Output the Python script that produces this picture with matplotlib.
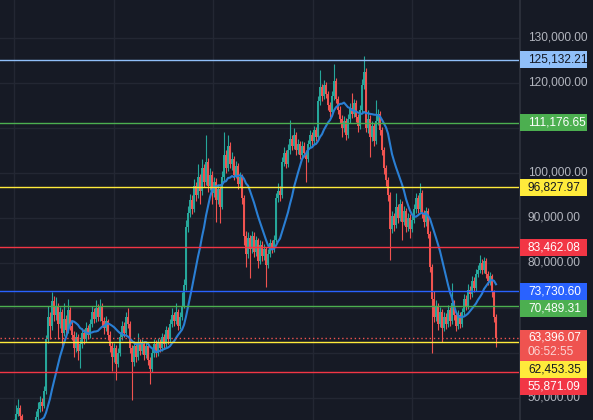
import numpy as np
import pandas as pd
import matplotlib
matplotlib.use("Agg")
import matplotlib.pyplot as plt
from matplotlib.patches import Rectangle

# candle data in thousands of USD, open of each candle = previous close
first_open_k = 43.0
close_k = [
    43.5, 44.0, 44.5, 46.5, 47.8, 46.0, 44.2, 43.0, 42.5, 43.2,
    42.8, 43.5, 44.0, 45.8, 47.5, 49.0, 48.2, 51.5, 63.0, 68.0,
    66.0, 71.5, 68.5, 70.5, 66.5, 69.0, 64.5, 67.5, 65.0, 69.5,
    66.0, 64.0, 61.0, 63.5, 60.5, 62.0, 64.5, 63.0, 65.5, 64.0,
    66.5, 69.0, 67.5, 70.0, 68.0, 70.5, 67.0, 65.5, 67.0, 64.0,
    61.5, 59.0, 61.0, 57.5, 60.0, 63.5, 66.0, 64.5, 68.0, 66.5,
    61.0, 58.0, 61.5, 59.0, 62.5, 60.5, 62.0, 59.5, 61.5, 58.5,
    56.5, 60.0, 62.0, 60.0, 62.5, 61.0, 63.5, 62.0, 65.0, 63.0,
    66.5, 68.5, 67.0, 69.0, 66.0, 68.0, 70.5, 75.0, 88.0, 91.0,
    94.0, 92.0, 97.0, 95.0, 99.0, 96.0, 101.0, 98.0, 102.5, 97.0,
    99.5, 95.5, 98.0, 94.0, 96.5, 92.5, 99.0, 104.0, 101.0, 106.0,
    102.0, 103.0, 99.5, 101.5, 97.5, 99.0, 94.5, 86.0, 82.0, 85.5,
    83.0, 86.0, 82.5, 85.0, 80.5, 84.0, 81.5, 83.0, 79.5, 82.0,
    84.5, 83.0, 85.0, 94.5, 96.0, 95.0, 102.5, 104.5, 102.0, 105.0,
    107.5, 106.0, 108.5, 105.0, 106.5, 104.0, 106.0, 104.5, 103.0, 106.5,
    108.5, 107.0, 109.5, 108.0, 116.0, 119.0, 117.0, 119.5, 117.5, 115.0,
    113.5, 117.0, 120.5, 116.5, 114.0, 112.0, 110.0, 111.5, 108.5, 112.0,
    114.5, 113.0, 115.5, 112.5, 110.5, 114.0, 119.5, 122.5, 110.0, 112.0,
    108.0, 110.5, 107.0, 111.5, 113.0, 109.5, 105.0, 101.0, 98.5, 95.0,
    87.5, 90.5, 88.5, 92.5, 90.0, 93.0, 89.0, 91.5, 88.0, 90.0,
    87.5, 89.5, 92.0, 94.5, 92.0, 95.5, 91.0, 89.0, 91.5, 86.5,
    79.0, 72.0, 68.0, 70.5, 66.5, 69.0, 65.5, 68.0, 66.5, 69.5,
    67.0, 71.0, 68.5, 66.0, 68.5, 66.5, 69.0, 72.0, 70.5, 74.0,
    73.0, 76.0, 74.5, 77.5, 78.5, 80.0, 78.5, 80.5, 77.5, 76.0,
    77.0, 73.5, 68.0, 63.39607,
]
high_k = [
    44.2, 44.6, 45.3, 48.5, 49.8, 48.4, 46.5, 44.6, 43.6, 43.9,
    43.8, 44.2, 44.7, 47.0, 49.0, 50.5, 50.0, 52.6, 64.0, 70.5,
    69.2, 73.5, 72.6, 72.5, 71.2, 70.2, 69.8, 71.0, 68.4, 72.0,
    70.3, 67.2, 64.8, 64.6, 64.2, 63.0, 65.6, 65.4, 66.8, 66.2,
    67.6, 70.5, 70.0, 71.8, 70.8, 72.0, 71.2, 68.0, 68.2, 67.6,
    64.8, 62.4, 62.2, 61.8, 61.2, 64.6, 67.2, 66.8, 69.0, 70.0,
    67.2, 61.8, 62.6, 62.2, 64.5, 63.2, 63.0, 62.6, 62.4, 62.0,
    59.2, 61.0, 63.0, 62.8, 63.4, 63.2, 64.4, 64.2, 66.0, 65.8,
    67.6, 70.0, 69.2, 71.0, 69.8, 69.0, 73.5, 76.5, 89.6, 92.6,
    95.4, 95.0, 98.6, 98.0, 102.0, 99.8, 103.0, 102.0, 108.5, 103.4,
    101.0, 100.4, 99.2, 98.8, 97.6, 97.2, 100.4, 109.0, 105.0, 108.5,
    106.8, 104.6, 103.8, 102.6, 102.2, 100.2, 99.8, 95.2, 87.0, 86.8,
    86.2, 87.2, 86.8, 86.0, 85.6, 85.2, 84.8, 84.2, 83.6, 83.0,
    85.4, 85.2, 86.2, 95.6, 97.8, 97.0, 103.6, 105.8, 105.2, 106.4,
    111.8, 108.4, 110.0, 109.2, 107.6, 107.2, 107.0, 106.8, 105.2, 107.4,
    109.6, 109.2, 110.4, 110.2, 117.2, 122.9, 119.8, 120.6, 120.2, 118.2,
    115.8, 118.2, 124.2, 121.2, 117.2, 114.8, 112.8, 112.6, 112.2, 113.0,
    115.6, 117.8, 116.4, 116.2, 113.2, 115.2, 120.8, 126.0, 123.4, 114.0,
    112.8, 111.6, 111.2, 116.2, 114.2, 113.8, 110.2, 105.8, 101.8, 99.2,
    95.8, 91.6, 91.2, 95.5, 93.2, 94.2, 93.8, 92.6, 92.2, 91.0,
    90.8, 90.6, 93.0, 95.6, 95.2, 97.8, 96.2, 91.8, 92.4, 92.2,
    87.2, 79.8, 73.8, 71.8, 71.2, 70.2, 69.8, 69.0, 68.8, 70.6,
    70.2, 75.5, 71.8, 69.2, 69.6, 69.2, 70.0, 73.2, 72.8, 75.4,
    74.8, 77.2, 76.8, 78.6, 79.6, 81.8, 80.8, 81.4, 81.0, 78.2,
    78.0, 77.6, 74.0, 68.6,
]
low_k = [
    42.5, 43.0, 43.6, 44.0, 46.0, 45.2, 43.6, 42.4, 41.8, 42.0,
    42.1, 42.3, 43.0, 43.6, 45.2, 46.8, 47.2, 47.8, 50.8, 62.2,
    63.2, 65.2, 67.0, 67.4, 63.0, 65.5, 61.5, 63.8, 64.0, 64.4,
    65.0, 62.8, 59.0, 60.2, 58.5, 56.7, 61.2, 62.0, 62.4, 63.0,
    63.4, 65.8, 66.6, 66.8, 67.0, 67.2, 66.0, 64.2, 64.8, 62.8,
    60.2, 56.0, 58.0, 54.0, 56.8, 59.4, 62.8, 63.6, 63.8, 65.6,
    60.0, 49.5, 57.2, 58.0, 58.4, 59.6, 59.8, 58.4, 58.8, 57.4,
    53.0, 55.8, 59.2, 59.0, 59.4, 60.2, 60.4, 61.2, 61.4, 62.0,
    62.4, 65.8, 66.0, 66.4, 65.0, 65.4, 67.4, 70.0, 74.0, 86.8,
    90.2, 90.8, 91.4, 93.8, 94.4, 93.0, 95.2, 96.8, 97.4, 95.8,
    96.2, 93.0, 94.6, 89.0, 93.2, 88.9, 92.0, 98.2, 100.0, 100.4,
    101.0, 100.6, 98.4, 98.8, 96.4, 96.8, 93.2, 84.0, 79.0, 81.2,
    76.7, 82.2, 81.4, 81.6, 78.8, 79.8, 80.4, 80.6, 74.6, 78.8,
    81.4, 82.2, 82.4, 84.6, 93.6, 93.8, 94.4, 101.6, 101.2, 101.4,
    104.2, 105.0, 105.4, 104.0, 104.2, 103.0, 103.4, 103.6, 98.0, 102.4,
    105.8, 106.0, 106.4, 107.0, 107.4, 115.2, 116.0, 116.4, 116.6, 114.0,
    112.4, 112.8, 116.2, 115.6, 113.0, 111.0, 108.0, 109.2, 107.3, 107.8,
    111.2, 112.2, 112.4, 111.4, 109.0, 109.8, 113.4, 118.6, 109.2, 108.8,
    103.5, 107.2, 106.0, 106.4, 110.6, 108.4, 104.0, 99.8, 97.0, 93.8,
    80.7, 86.6, 87.2, 87.8, 88.8, 89.4, 85.0, 88.4, 86.8, 87.2,
    85.6, 86.8, 88.8, 91.2, 91.0, 91.4, 90.0, 88.0, 88.2, 85.6,
    78.0, 60.0, 66.8, 67.2, 65.0, 65.8, 62.4, 64.8, 65.4, 65.8,
    66.0, 66.4, 67.4, 64.8, 65.4, 65.6, 65.8, 68.4, 69.6, 69.8,
    72.0, 72.4, 73.6, 73.8, 76.8, 77.8, 77.6, 77.8, 76.6, 75.0,
    75.2, 72.4, 66.8, 61.3,
]

# horizontal levels drawn on the chart
level_prices = [125132.21, 111176.65, 96827.97, 83462.08, 73730.60, 70489.31, 62453.35, 55871.09]
level_colors = ["#90bff9", "#4caf50", "#ffeb3b", "#f23645", "#2962ff", "#4caf50", "#ffeb3b", "#f23645"]
level_text = ["#131722", "white", "#131722", "white", "white", "white", "#131722", "white"]

last_price = 63396.07
countdown = "06:52:55"
axis_ticks = np.arange(50000, 130001, 10000)
ma_window = 14

BG = "#161a25"
GRID = "#232733"
UP = "#26a69a"
DOWN = "#ef5350"
FONT = "Liberation Sans"

close = np.array(close_k) * 1000
high = np.array(high_k) * 1000
low = np.array(low_k) * 1000
open_ = np.concatenate([[first_open_k * 1000], close[:-1]])
idx = np.arange(len(close))
ma = pd.Series(close).rolling(ma_window).mean()

W, H = 593, 420
plot_w = 519
fig = plt.figure(figsize=(W / 100, H / 100), dpi=100, facecolor=BG)
ax = fig.add_axes([0, 0, plot_w / W, 1])
ax.set_facecolor(BG)
ylo, yhi = 45111, 138444
px = (yhi - ylo) / H
ax.set_ylim(ylo, yhi)
ax.set_xlim(-5, 254.5)

ax.set_yticks(axis_ticks)
ax.set_xticks([2, 51.75, 101.5, 151.25, 201])
ax.grid(color=GRID, lw=1)
ax.tick_params(length=0, labelleft=False, labelbottom=False)
for s in ax.spines.values():
    s.set_visible(False)

# candles
col = np.where(close >= open_, UP, DOWN)
ax.vlines(idx, low, high, colors=col, lw=0.8, zorder=3)
body = np.maximum(np.abs(close - open_), px)
ax.bar(idx, body, bottom=np.minimum(close, open_), width=0.65, color=col, lw=0, zorder=3)

ax.plot(idx, ma, color="#2a7fd4", lw=1.5, zorder=4)

for p, c in zip(level_prices, level_colors):
    ax.axhline(p, color=c, lw=1, zorder=5)
ax.axhline(last_price, color=DOWN, lw=1, ls=(0, (1, 2)), zorder=5)

# price scale on the right
sax = fig.add_axes([plot_w / W, 0, (W - plot_w) / W, 1], sharey=ax)
sax.set_facecolor(BG)
sax.set_xlim(0, W - plot_w)
sax.tick_params(length=0, labelleft=False, labelbottom=False)
for s in sax.spines.values():
    s.set_visible(False)
sax.axvline(0.5, color="#2a2e39", lw=1.5)


def to_px(v):
    return (yhi - v) / px


def to_data(y):
    return yhi - y * px


# tag boxes, top/bottom in pixels from the top; current price box first
cur = to_px(last_price)
boxes = [(cur - 8, cur + 23, DOWN, None)]
for p, c, tc in zip(level_prices, level_colors, level_text):
    y = to_px(p)
    boxes.append((y - 8.5, y + 8.5, c, (p, tc)))

placed = []
for top, bot, c, info in sorted(boxes, key=lambda b: b[0]):
    for ptop, pbot in placed:
        if top < pbot and bot > ptop:
            shift = pbot - top
            top, bot = top + shift, bot + shift
    placed.append((top, bot))
    sax.add_patch(Rectangle((0.8, to_data(bot)), 67, (bot - top) * px,
                            facecolor=c, edgecolor="none", zorder=5))
    if info is None:
        sax.text(9, to_data(top + 8), f"{last_price:,.2f}", color="white", fontsize=8.6,
                 family=FONT, va="center", ha="left", zorder=6)
        sax.text(9, to_data(top + 22.5), countdown, color="#fbd3d2", fontsize=8.6,
                 family=FONT, va="center", ha="left", zorder=6)
    else:
        p, tc = info
        sax.text(9, to_data((top + bot) / 2), f"{p:,.2f}", color=tc, fontsize=8.6,
                 family=FONT, va="center", ha="left", zorder=6)

# scale labels, skipped where a tag covers them
for t in axis_ticks:
    y = to_px(t)
    if any(top <= y <= bot for top, bot in placed):
        continue
    sax.text(9, t, f"{t:,.2f}", color="#b2b5be", fontsize=8.6, family=FONT,
             va="center", ha="left", zorder=2)

fig.savefig("out.png", dpi=100, facecolor=BG)
